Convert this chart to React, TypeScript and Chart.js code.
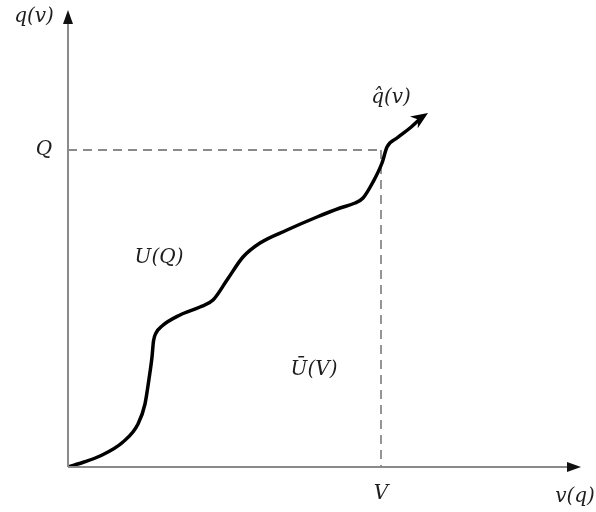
import React, { useEffect, useRef } from "react";
import { Chart, registerables } from "chart.js";

Chart.register(...registerables);

// Curve q̂(v): abstract units (x = v, y = q)
const curveX = [0, 16, 32, 55, 70, 77, 81, 84, 85.5, 88, 94, 112, 132, 145, 159, 175, 192, 219, 249, 272, 287, 295, 305, 314, 319, 329, 342, 354];
const curveY = [0, 5, 11, 25, 43, 63, 88, 110, 126, 134, 141, 152, 160, 167, 187, 210, 224, 237, 250, 259, 264, 269, 285, 304, 320, 329, 339, 350];
const arrowTip = [360, 354];
const Qlevel = 317;
const Vlevel = 313;
const xAxisEnd = 513;
const yAxisEnd = 457;
const xMax = 528;
const yMax = 467;

const labelTexts = ["q(v)", "Q", "V", "v(q)", "U(Q)", "Ū(V)", "q̂(v)"];
const labelX = [-34, -24, 313, 507, 91, 246, 323];
const labelY = [450, 317, -27, -30, 209, 97, 369];

const overlay = {
  id: "overlay",
  afterDatasetsDraw(chart: any) {
    const ctx = chart.ctx;
    const xs = chart.scales.x;
    const ys = chart.scales.y;
    const px = (v: number) => xs.getPixelForValue(v);
    const py = (v: number) => ys.getPixelForValue(v);
    ctx.save();
    // axes
    ctx.strokeStyle = "#8a8a8a";
    ctx.lineWidth = 2;
    ctx.beginPath();
    ctx.moveTo(px(0), py(0));
    ctx.lineTo(px(xAxisEnd) - 10, py(0));
    ctx.moveTo(px(0), py(0));
    ctx.lineTo(px(0), py(yAxisEnd) + 10);
    ctx.stroke();
    ctx.fillStyle = "#111";
    // x arrow
    ctx.beginPath();
    ctx.moveTo(px(xAxisEnd), py(0));
    ctx.lineTo(px(xAxisEnd) - 14, py(0) - 5);
    ctx.lineTo(px(xAxisEnd) - 14, py(0) + 5);
    ctx.closePath();
    ctx.fill();
    // y arrow
    ctx.beginPath();
    ctx.moveTo(px(0), py(yAxisEnd));
    ctx.lineTo(px(0) - 5, py(yAxisEnd) + 14);
    ctx.lineTo(px(0) + 5, py(yAxisEnd) + 14);
    ctx.closePath();
    ctx.fill();
    // curve arrow head
    const n = curveX.length - 1;
    const bx = px(curveX[n]);
    const by = py(curveY[n]);
    const tx = px(arrowTip[0]);
    const ty = py(arrowTip[1]);
    const ang = Math.atan2(ty - by, tx - bx);
    const L = 17;
    const W = 7;
    ctx.fillStyle = "#000";
    ctx.beginPath();
    ctx.moveTo(tx, ty);
    ctx.lineTo(tx - L * Math.cos(ang) + W * Math.sin(ang), ty - L * Math.sin(ang) - W * Math.cos(ang));
    ctx.lineTo(tx - L * 0.7 * Math.cos(ang), ty - L * 0.7 * Math.sin(ang));
    ctx.lineTo(tx - L * Math.cos(ang) - W * Math.sin(ang), ty - L * Math.sin(ang) + W * Math.cos(ang));
    ctx.closePath();
    ctx.fill();
    // labels
    ctx.fillStyle = "#1e1e1e";
    ctx.font = "italic 20px 'DejaVu Serif'";
    ctx.textAlign = "center";
    ctx.textBaseline = "middle";
    labelTexts.forEach((t, i) => {
      ctx.fillText(t, px(labelX[i]), py(labelY[i]));
    });
    ctx.restore();
  },
};

export default function App() {
  const ref = useRef<HTMLCanvasElement>(null);
  useEffect(() => {
    document.body.style.margin = "0";
    const chart = new Chart(ref.current as HTMLCanvasElement, {
      type: "line",
      data: {
        datasets: [
          {
            data: curveX.map((x, i) => ({ x, y: curveY[i] })),
            borderColor: "#000",
            borderWidth: 3.5,
            pointRadius: 0,
            cubicInterpolationMode: "monotone",
            fill: false,
          },
          {
            data: [
              { x: 0, y: Qlevel },
              { x: Vlevel + 2, y: Qlevel },
            ],
            borderColor: "#8a8a8a",
            borderWidth: 1.8,
            borderDash: [9, 6],
            pointRadius: 0,
          },
          {
            data: [
              { x: Vlevel, y: Qlevel },
              { x: Vlevel, y: 0 },
            ],
            borderColor: "#8a8a8a",
            borderWidth: 1.8,
            borderDash: [9, 6],
            pointRadius: 0,
          },
        ],
      },
      options: {
        animation: false,
        responsive: false,
        layout: { padding: { left: 68, right: 0, top: 0, bottom: 45 } },
        plugins: { legend: { display: false }, tooltip: { enabled: false } },
        scales: {
          x: { type: "linear", min: 0, max: xMax, display: false },
          y: { type: "linear", min: 0, max: yMax, display: false },
        },
      },
      plugins: [overlay],
    } as any);
    return () => chart.destroy();
  }, []);
  return <canvas ref={ref} width={596} height={512} />;
}
